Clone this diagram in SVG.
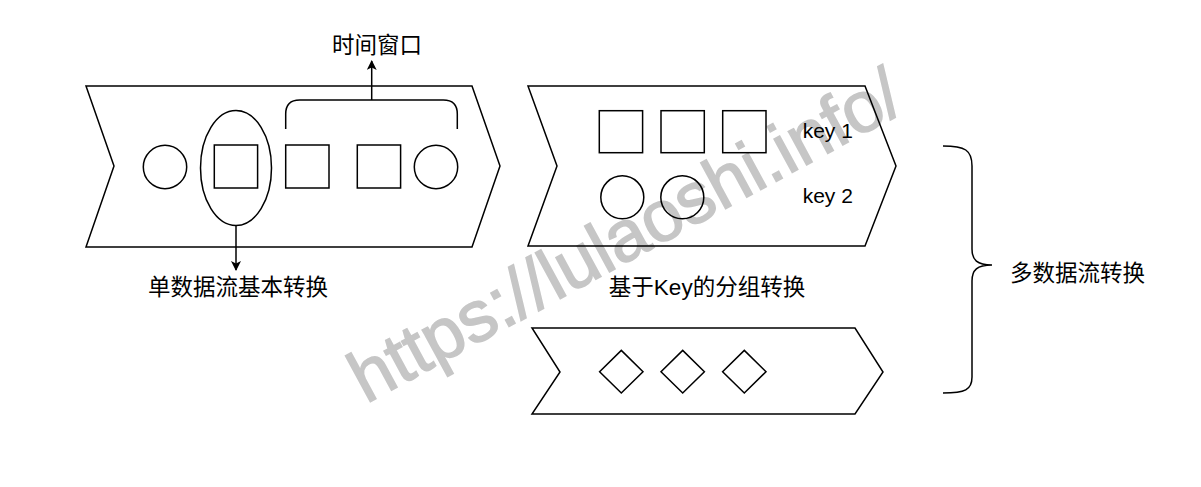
<svg xmlns="http://www.w3.org/2000/svg" width="1201" height="487" viewBox="0 0 1201 487">
<style>
.s{fill:none;stroke:#000;stroke-width:1.5}
.t{font-family:"Liberation Sans","Noto Sans CJK SC",sans-serif;font-size:22.5px;fill:#000}
.k{font-family:"Liberation Sans",Arial,sans-serif;font-size:21px;fill:#000}
.wm{font-family:"Liberation Sans",Arial,sans-serif;font-size:72px;fill:#c6c6c6;stroke:#c6c6c6;stroke-width:1.5}
</style>
<defs>
<marker id="ah" markerWidth="10" markerHeight="10" refX="9" refY="5" orient="auto" markerUnits="userSpaceOnUse">
<path d="M0,0 L10,5 L0,10 L2.5,5 Z" fill="#000"/>
</marker>
</defs>
<rect width="1201" height="487" fill="#fff"/>
<text class="wm" transform="translate(366,404) rotate(-28.5)">https://lulaoshi.info/</text>
<g id="stream1">
<polygon class="s" points="86,86 472,86 500,166 472,247 86,247 114,166"/>
<circle class="s" cx="165" cy="167" r="21.7"/>
<ellipse class="s" cx="236" cy="168" rx="35.5" ry="57.5"/>
<rect class="s" x="214.3" y="145" width="43.3" height="43"/>
<rect class="s" x="285.7" y="145" width="43.3" height="43"/>
<rect class="s" x="357.3" y="145" width="43.3" height="43"/>
<circle class="s" cx="436" cy="167" r="21.7"/>
<path class="s" d="M285.7,129 V114 Q285.7,100 299.7,100 H443.3 Q457.3,100 457.3,114 V129"/>
</g>
<g id="stream2">
<polygon class="s" points="528,86 865,86 896,166 865,246 528,246 557,166"/>
<rect class="s" x="599.3" y="110.7" width="43.3" height="42"/>
<rect class="s" x="661" y="110.7" width="43.3" height="42"/>
<rect class="s" x="722.7" y="110.7" width="43.3" height="42"/>
<circle class="s" cx="622.3" cy="197.3" r="21.5"/>
<circle class="s" cx="682.3" cy="197.3" r="21.5"/>
<text class="k" x="802.7" y="138.3">key 1</text>
<text class="k" x="802.7" y="203.3">key 2</text>
</g>
<g id="stream3">
<polygon class="s" points="532,328 855,328 883,372 855,414 532,414 560,372"/>
<polygon class="s" points="621.3,350.4 643,371.7 621.3,393 599.6,371.7"/>
<polygon class="s" points="682.7,350.4 704.4,371.7 682.7,393 661,371.7"/>
<polygon class="s" points="744.3,350.4 766,371.7 744.3,393 722.6,371.7"/>
</g>
<g id="brace">
<path class="s" d="M943,146 C965,146 972,150 972,166 V249 C972,260 977,265 992,265 C977,265 972,270 972,281 V377 C972,390 965,393 943,393"/>
</g>
<g id="labels">
<text class="t" x="377" y="53" text-anchor="middle">时间窗口</text>
<text class="t" x="238" y="295" text-anchor="middle">单数据流基本转换</text>
<text class="t" x="707" y="295" text-anchor="middle">基于Key的分组转换</text>
<text class="t" x="1010" y="281">多数据流转换</text>
</g>
<g id="connectors">
<line class="s" x1="371.7" y1="100" x2="371.7" y2="61" marker-end="url(#ah)"/>
<line class="s" x1="236" y1="225.5" x2="236" y2="270" marker-end="url(#ah)"/>
</g>
</svg>
